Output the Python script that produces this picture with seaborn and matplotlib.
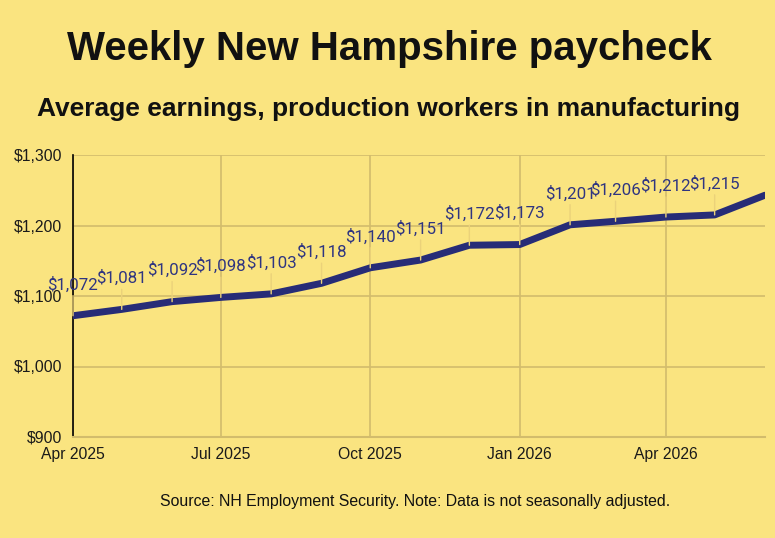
import matplotlib
matplotlib.use("Agg")
import matplotlib.pyplot as plt
import matplotlib.ticker as mticker
import seaborn as sns
import pandas as pd

months = ["2025-04", "2025-05", "2025-06", "2025-07", "2025-08", "2025-09", "2025-10",
          "2025-11", "2025-12", "2026-01", "2026-02", "2026-03", "2026-04", "2026-05", "2026-06"]
earnings = [1072, 1081, 1092, 1098, 1103, 1118, 1140, 1151, 1172, 1173, 1201, 1206, 1212, 1215, 1243]
labeled_count = 14
tick_months = ["2025-04", "2025-07", "2025-10", "2026-01", "2026-04"]
tick_labels = ["Apr 2025", "Jul 2025", "Oct 2025", "Jan 2026", "Apr 2026"]
y_ticks = [900, 1000, 1100, 1200, 1300]

BG = "#FAE480"
GRID = "#D2BC6C"
LINE = "#272C77"
LBL = "#2F3581"
FONT = ["Liberation Sans", "DejaVu Sans"]

df = pd.DataFrame({"date": pd.to_datetime(months), "earnings": earnings})

sns.set_theme(style="white")
plt.rcParams["font.family"] = FONT

fig = plt.figure(figsize=(7.75, 5.38), dpi=100, facecolor=BG)
ax = fig.add_axes([73 / 775, 1 - 437 / 538, 692 / 775, 282 / 538])
ax.set_facecolor(BG)

sns.lineplot(data=df, x="date", y="earnings", ax=ax, color=LINE, lw=5, zorder=5)

ax.set_xlim(df["date"].iloc[0], df["date"].iloc[-1])
ax.set_ylim(900, 1300)
ax.set_yticks(y_ticks)
ax.yaxis.set_major_formatter(mticker.FuncFormatter(lambda v, p: f"${v:,.0f}"))
ax.set_xticks(pd.to_datetime(tick_months))
ax.set_xticklabels(tick_labels)
ax.grid(True, color=GRID, lw=1.2)
ax.set_axisbelow(True)
ax.set_xlabel("")
ax.set_ylabel("")
for s in ["top", "right"]:
    ax.spines[s].set_visible(False)
ax.spines["left"].set_color("black")
ax.spines["left"].set_linewidth(1.2)
ax.spines["bottom"].set_color(GRID)
ax.spines["bottom"].set_linewidth(1.5)
ax.tick_params(axis="both", length=0, labelsize=11.3, colors="#1a1a1a")
ax.tick_params(axis="y", pad=8)
ax.tick_params(axis="x", pad=7)

for d, v in zip(df["date"].iloc[:labeled_count], df["earnings"].iloc[:labeled_count]):
    ax.annotate(f"${v:,.0f}", xy=(d, v), xytext=(0, 19), textcoords="offset points",
                ha="center", va="baseline", fontsize=12.2, color=LBL,
                family=["Roboto", "DejaVu Sans"], zorder=6,
                arrowprops=dict(arrowstyle="-", color="#EBD27A", lw=1, shrinkA=0, shrinkB=0),
                annotation_clip=False)

fig.text(0.502, 0.908, "Weekly New Hampshire paycheck", ha="center", va="center",
         fontsize=29, fontweight="bold", color="#111111")
fig.text(0.501, 0.797, "Average earnings, production workers in manufacturing", ha="center",
         va="center", fontsize=19, fontweight="bold", color="#111111")
fig.text(0.535, 0.068, "Source: NH Employment Security. Note: Data is not seasonally adjusted.",
         ha="center", va="center", fontsize=11.4, color="#111111")

fig.savefig("out.png", dpi=100, facecolor=BG)
